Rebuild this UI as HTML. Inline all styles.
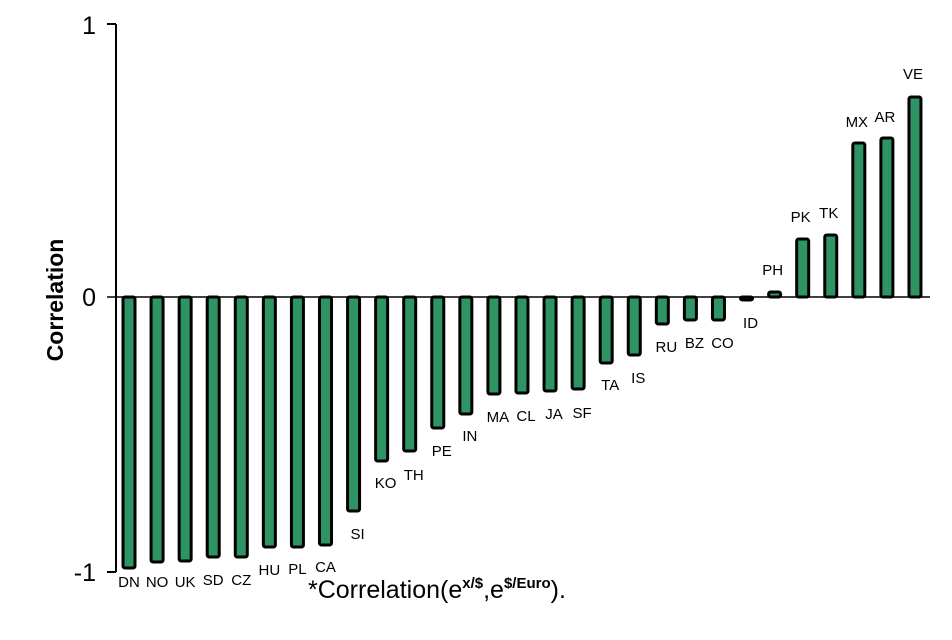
<!DOCTYPE html>
<html><head><meta charset="utf-8"><style>
body{margin:0;background:#fff}
svg{display:block;font-family:"Liberation Sans",Arial,sans-serif}
</style></head><body>
<svg width="952" height="640" viewBox="0 0 952 640">
<line x1="116" y1="24" x2="116" y2="572" stroke="#000" stroke-width="2"/>
<line x1="107" y1="24" x2="116" y2="24" stroke="#000" stroke-width="2"/>
<line x1="107" y1="297" x2="930" y2="297" stroke="#000" stroke-width="1.5"/>
<line x1="107" y1="572" x2="116" y2="572" stroke="#000" stroke-width="2"/>
<text x="96" y="34" font-size="25" text-anchor="end">1</text>
<text x="96" y="306" font-size="25" text-anchor="end">0</text>
<text x="96" y="581" font-size="25" text-anchor="end">-1</text>
<text transform="translate(63,300) rotate(-90)" font-size="23" font-weight="bold" text-anchor="middle">Correlation</text>
<g id="bars" fill="#2e9464" stroke="#000" stroke-width="3"></g>
<g id="labels" font-size="15" text-anchor="middle" fill="#000"></g>
<text x="308" y="598" font-size="25">*Correlation(e<tspan dy="-10" font-size="15" font-weight="bold">x/$</tspan><tspan dy="10">,e</tspan><tspan dy="-10" font-size="15" font-weight="bold">$/Euro</tspan><tspan dy="10">).</tspan></text>
<script>
var d=[["DN",568,587],["NO",562,587],["UK",561,587],["SD",557,585],["CZ",557,585],["HU",547,575],["PL",547,574],["CA",545,572],["SI",511,539],["KO",461,488],["TH",451,480],["PE",428,456],["IN",414,441],["MA",394,422],["CL",393,421],["JA",391,419],["SF",389,418],["TA",363,390],["IS",355,383],["RU",324,352],["BZ",320,348],["CO",320,348],["ID",300,328],["PH",292,275],["PK",239,222],["TK",235,218],["MX",143,127],["AR",138,122],["VE",97,79]];
var ns="http://www.w3.org/2000/svg",b=document.getElementById("bars"),l=document.getElementById("labels");
d.forEach(function(r,i){var cx=129+i*28.07;var y0=Math.min(297,r[1]),y1=Math.max(297,r[1]);
var e=document.createElementNS(ns,"rect");e.setAttribute("x",cx-6);e.setAttribute("y",y0);e.setAttribute("width",12);e.setAttribute("height",Math.max(y1-y0,1));e.setAttribute("rx",2);b.appendChild(e);
var t=document.createElementNS(ns,"text");t.setAttribute("x",cx+(i<8?0:(i>22?-2:4)));t.setAttribute("y",r[2]);t.textContent=r[0];l.appendChild(t);});
</script>
</svg>
</body></html>
